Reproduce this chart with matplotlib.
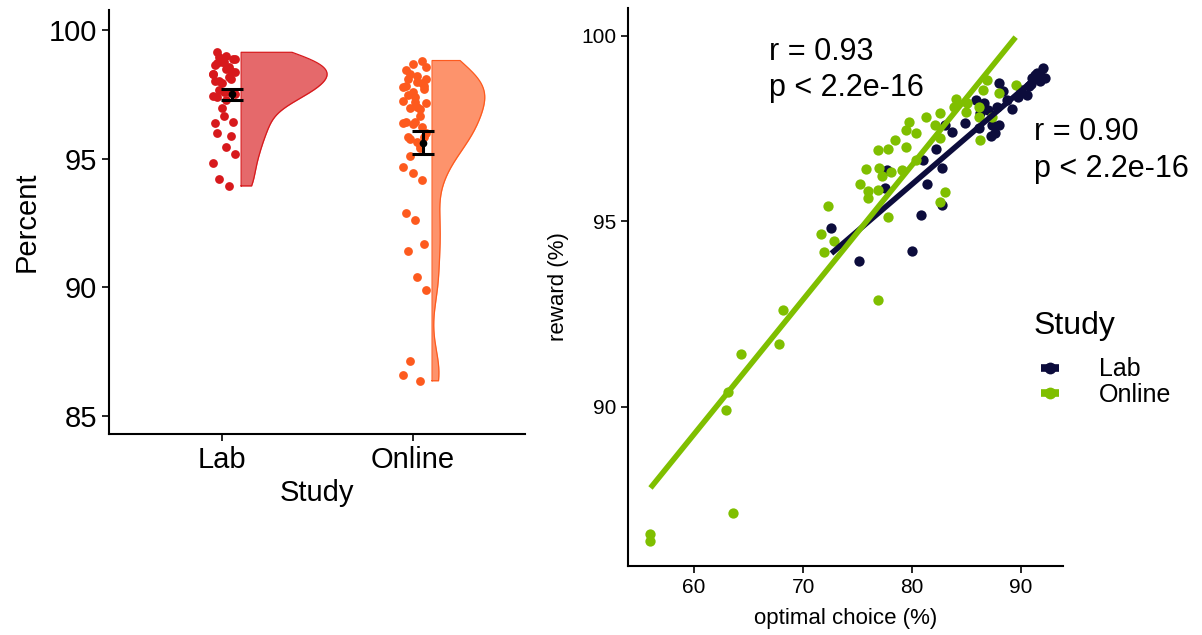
import numpy as np
import matplotlib.pyplot as plt
from matplotlib.lines import Line2D

plt.rcParams['font.family'] = ['Liberation Sans', 'DejaVu Sans']

# per-participant scores: optimal choice (%) and reward (%)
lab_choice = [72.6, 75.1, 79.97, 80.8, 82.7, 81.35, 82.7, 81.0, 77.7, 77.5,
              82.2, 83.7, 83.0, 84.9, 86.1, 87.2, 87.6, 88.0, 87.3, 89.2,
              90.5, 88.0, 88.7, 86.6, 87.0, 91.0, 91.45, 92.05, 92.2, 91.7,
              90.7, 87.8, 86.2, 85.9, 90.0, 91.3, 89.7, 88.3, 90.9]
lab_reward = [94.83, 93.94, 94.20, 95.18, 95.44, 96.0, 96.43, 96.64, 96.39, 95.89,
              96.95, 97.42, 97.60, 97.65, 97.51, 97.29, 97.39, 97.60, 97.60, 98.02,
              98.41, 98.74, 98.27, 98.19, 98.01, 98.86, 98.99, 99.13, 98.86, 98.77,
              98.65, 98.09, 97.92, 98.27, 98.55, 98.95, 98.35, 98.5, 98.7]

online_choice = [56.0, 56.0, 63.6, 62.9, 63.1, 64.3, 67.8, 68.2, 76.85, 71.9,
                 72.84, 71.65, 72.3, 77.8, 75.2, 76.0, 76.0, 76.9, 75.8, 77.0,
                 77.2, 78.1, 79.05, 76.85, 77.8, 78.4, 79.45, 79.4, 79.75, 80.4,
                 81.3, 82.6, 82.1, 82.6, 82.6, 83.0, 83.8, 84.95, 86.1, 86.1,
                 86.2, 88.0, 86.9, 89.5, 87.3, 80.4, 84.0, 86.5, 85.0]
online_reward = [86.58, 86.37, 87.13, 89.91, 90.39, 91.43, 91.70, 92.60, 92.87, 94.16,
                 94.46, 94.66, 95.42, 95.11, 96.01, 95.63, 95.83, 95.85, 96.41, 96.43,
                 96.21, 96.34, 96.39, 96.91, 96.95, 97.18, 97.0, 97.47, 97.69, 97.39,
                 97.81, 97.92, 97.60, 97.24, 95.53, 95.78, 98.09, 97.96, 98.09, 97.82,
                 97.20, 98.46, 98.81, 98.68, 97.80, 96.66, 98.3, 98.55, 98.2]

studies = ['Lab', 'Online']
point_cols = ['#d7191c', '#fd5a1e']
scatter_cols = ['#0c0c3c', '#7fbf00']
r_labels = ['r = 0.90\np < 2.2e-16', 'r = 0.93\np < 2.2e-16']


def half_kde(v, n=512):
    # gaussian density (R's nrd0 bandwidth), trimmed to the data range
    v = np.asarray(v)
    q75, q25 = np.percentile(v, [75, 25])
    bw = 0.9 * min(v.std(ddof=1), (q75 - q25) / 1.34) * len(v) ** -0.2
    grid = np.linspace(v.min(), v.max(), n)
    d = np.exp(-0.5 * ((grid[:, None] - v[None, :]) / bw) ** 2).sum(1)
    d = d / (len(v) * bw * np.sqrt(2 * np.pi))
    return grid, d


fig = plt.figure(figsize=(12.02, 6.35), dpi=100)

# ---- raincloud panel ----
ax1 = fig.add_axes([0.0907, 0.3165, 0.346, 0.668])
rewards = [lab_reward, online_reward]
dens = [half_kde(r) for r in rewards]
dmax = max(d.max() for _, d in dens)

for i, (vals, (grid, d)) in enumerate(zip(rewards, dens)):
    pos = i + 1
    x0 = pos + 0.1
    w = d / dmax * 0.45
    ax1.fill_betweenx(grid, x0, x0 + w, color=point_cols[i], alpha=0.65, lw=0)
    ax1.plot(np.r_[x0, x0 + w, x0, x0], np.r_[grid[0], grid, grid[-1], grid[0]],
             color=point_cols[i], lw=0.9)

    vals = np.asarray(vals)
    k = np.arange(len(vals))
    jit = (((k * 7) % 11) / 10.0 - 0.5) * 0.12 + 0.01
    ax1.scatter(pos + jit, vals, s=40, color=point_cols[i], lw=0, zorder=3)

    m = vals.mean()
    se = vals.std(ddof=1) / np.sqrt(len(vals))
    ax1.errorbar(pos + 0.05, m, yerr=se, fmt='o', color='black', ms=4.5,
                 capsize=8, capthick=2.2, elinewidth=2.2, zorder=4)

ax1.set_xlim(0.408, 2.586)
ax1.set_ylim(84.3, 100.78)
ax1.set_xticks([1, 2])
ax1.set_xticklabels(studies)
ax1.set_yticks([85, 90, 95, 100])
ax1.set_xlabel('Study', fontsize=21, labelpad=4)
ax1.set_ylabel('Percent', fontsize=21, labelpad=6)
ax1.tick_params(labelsize=21, length=5, width=1.2, colors='black')
for s in ['top', 'right']:
    ax1.spines[s].set_visible(False)
for s in ['left', 'bottom']:
    ax1.spines[s].set_linewidth(1.5)

# ---- correlation panel ----
ax2 = fig.add_axes([0.5225, 0.1087, 0.3619, 0.8787])
xs = [lab_choice, online_choice]
ys = [lab_reward, online_reward]
for i in range(2):
    ax2.scatter(xs[i], ys[i], s=55, color=scatter_cols[i], lw=0, zorder=2)
for i in range(2):
    x = np.asarray(xs[i])
    b, a = np.polyfit(x, ys[i], 1)
    xx = np.array([x.min(), x.max()])
    ax2.plot(xx, a + b * xx, color=scatter_cols[i], lw=4, solid_capstyle='butt', zorder=3)

ax2.text(91.2, 97.82, r_labels[0], fontsize=22, ha='left', va='top', linespacing=1.3)
ax2.text(66.9, 99.98, r_labels[1], fontsize=22, ha='left', va='top', linespacing=1.3)

ax2.set_xlim(53.94, 93.85)
ax2.set_ylim(85.71, 100.75)
ax2.set_xticks([60, 70, 80, 90])
ax2.set_yticks([90, 95, 100])
ax2.set_xlabel('optimal choice (%)', fontsize=16, labelpad=8)
ax2.set_ylabel('reward (%)', fontsize=16, labelpad=9)
ax2.tick_params(labelsize=15, length=5, width=1.2, colors='black')
for s in ['top', 'right']:
    ax2.spines[s].set_visible(False)
for s in ['left', 'bottom']:
    ax2.spines[s].set_linewidth(1.5)

# legend: title drawn on its own, keys are point + line
fig.text(0.86, 1 - 326 / 635, 'Study', fontsize=23, ha='left', va='center')
handles = [Line2D([], [], color=c, lw=5.5, marker='o', ms=8.5, mew=0,
                  solid_capstyle='butt') for c in scatter_cols]
leg = fig.legend(handles, studies, loc='upper left',
                 bbox_to_anchor=(0.856, 1 - 345 / 635), frameon=False, fontsize=18,
                 handlelength=0.7, handletextpad=1.6,
                 labelspacing=0.05, borderpad=0)

fig.savefig('out.png', dpi=100)
